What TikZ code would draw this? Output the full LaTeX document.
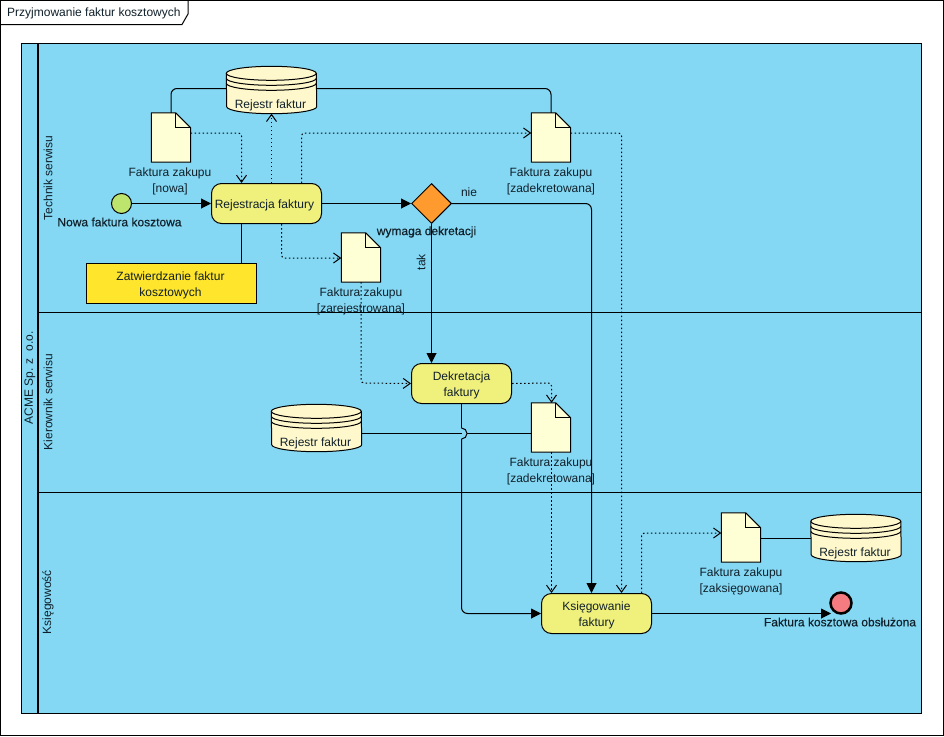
\documentclass[tikz,border=0pt]{standalone}
\usepackage{fontspec}
\setmainfont{Liberation Sans}
\newfontfamily\heavyface[FakeBold=0.25]{Liberation Sans}
\usetikzlibrary{arrows.meta,calc,shapes.geometric}
\definecolor{poolblue}{HTML}{84D8F4}
\definecolor{taskyellow}{HTML}{F0F07C}
\definecolor{sheet}{HTML}{FFFFD6}
\definecolor{drum}{HTML}{FFF8CC}
\definecolor{rulegold}{HTML}{FFE52B}
\definecolor{gateorange}{HTML}{FF9A2E}
\definecolor{startgreen}{HTML}{BDE56E}
\definecolor{endred}{HTML}{F47C80}
\definecolor{ink}{HTML}{10202A}
\tikzset{
  x=1pt,y=-1pt,
  every node/.style={font=\fontsize{12}{16}\selectfont,text=ink,inner sep=0pt,align=center},
  outline/.style={draw=black,line width=1pt},
  taskbox/.style={outline,fill=taskyellow,rounded corners=10pt,minimum height=40pt},
  rulebox/.style={outline,fill=rulegold,minimum width=170pt,minimum height=40pt},
  sheetbox/.style={minimum width=39pt,minimum height=49pt},
  drumbox/.style={minimum width=90pt,minimum height=47pt},
  flow/.style={draw=black,line width=1pt,rounded corners=6pt,-{Triangle[length=10pt,width=10pt]}},
  assoc/.style={draw=black,line width=1pt,rounded corners=6pt},
  dataflow/.style={draw=black,line width=1pt,rounded corners=3pt,dash pattern=on 1.5pt off 2.5pt,
    -{Straight Barb[length=7pt,width=10pt]}},
  boldlabel/.style={font=\heavyface\fontsize{12}{16}\selectfont},
  lanetitle/.style={rotate=90},
  boxtext/.style={yshift=-2pt}
}
% Data object: a sheet with a folded corner
\newcommand{\datasheet}[2]{%
  \node[sheetbox] (#1) at (#2) {};
  \draw[outline,fill=sheet,line join=miter] (#1.north west) -- ([xshift=-15pt]#1.north east)
    -- ([yshift=-15pt]#1.north east) -- (#1.south east) -- (#1.south west) -- cycle;
  \draw[outline] ([xshift=-15pt]#1.north east) -- ([xshift=-15pt,yshift=-15pt]#1.north east)
    -- ([yshift=-15pt]#1.north east);
}
% Data store: a drum with three rings and its caption
\newcommand{\datastore}[2]{%
  \node[drumbox] (#1) at (#2) {};
  \draw[outline,fill=drum] ([yshift=-7pt]#1.north west)
    arc[start angle=180,end angle=0,x radius=45pt,y radius=7pt]
    -- ([yshift=7pt]#1.south east)
    arc[start angle=0,end angle=-180,x radius=45pt,y radius=7pt] -- cycle;
  \draw[outline] ([yshift=-7pt]#1.north west)
    arc[start angle=180,end angle=360,x radius=45pt,y radius=7pt];
  \draw[outline] ([yshift=-12pt]#1.north west)
    arc[start angle=180,end angle=360,x radius=45pt,y radius=7pt];
  \draw[outline] ([yshift=-17pt]#1.north west)
    arc[start angle=180,end angle=360,x radius=45pt,y radius=7pt];
  \node (#1text) at ([xshift=-1pt,yshift=8pt]#1.south) {Rejestr faktur};
}
\begin{document}
\begin{tikzpicture}
\useasboundingbox (0,0) rectangle (944,736);
\fill[white] (0,0) rectangle (944,736);

% Diagram frame and its name tab
\draw[black,line width=1pt] (0.5,0.5) rectangle (943.5,735.5);
\draw[black,line width=1pt] (0.5,24.5) -- (182,24.5) -- (188,14) -- (188,0.5);
\node[anchor=west] (title) at (7,13) {Przyjmowanie faktur kosztowych};

% Pool with its three lanes
\node[draw=black,line width=1pt,fill=poolblue,minimum width=900pt,minimum height=670pt] (pool) at (471.5,378.5) {};
\draw[black,line width=2.5pt] (38,43.5) -- (38,713.5);
\draw[black,line width=1pt] (38,312.5) -- (pool.east |- 0,312.5);
\draw[black,line width=1pt] (38,492.5) -- (pool.east |- 0,492.5);
\node[lanetitle] (poolname) at (30,378) {ACME Sp. z\ \ o.o.};
\node[lanetitle] (lane1) at (48,178) {Technik serwisu};
\node[lanetitle] (lane2) at (48,402) {Kierownik serwisu};
\node[lanetitle] (lane3) at (48,602) {Księgowość};

% Data stores and data objects
\datastore{storeA}{271.5,90}
\datastore{storeB}{316.5,428}
\datastore{storeC}{856,538}
\datasheet{docNew}{171,137.5}
\datasheet{docDecA}{551,137.5}
\datasheet{docReg}{361,257.5}
\datasheet{docDecB}{551,427.5}
\datasheet{docPost}{741,537.5}

% Activities, gateway and events
\node[taskbox,minimum width=110pt] (taskReg) at (266.5,203.5) {};
\node[boxtext,xshift=-2pt] (taskRegText) at (taskReg.center) {Rejestracja faktury};
\node[taskbox,minimum width=100pt] (taskDec) at (461.5,383.5) {};
\node[boxtext] (taskDecText) at (taskDec.center) {Dekretacja\\faktury};
\node[taskbox,minimum width=110pt] (taskPost) at (596.5,613.5) {};
\node[boxtext] (taskPostText) at (taskPost.center) {Księgowanie\\faktury};
\node[rulebox] (rule) at (171.5,283.5) {};
\node[boxtext,xshift=-1pt] (ruleText) at (rule.center) {Zatwierdzanie faktur\\kosztowych};
\node[outline,fill=gateorange,diamond,aspect=1,minimum size=40pt] (gate) at (431.5,203.5) {};
\node[outline,fill=startgreen,circle,minimum size=20pt] (start) at (121.5,203.5) {};
\node[draw=black,line width=2.5pt,fill=endred,circle,minimum size=21pt] (end) at (841,603) {};

% Associations between objects and stores
\draw[assoc] (docNew.north) -- (docNew.north |- 0,88.5) -- (storeA.west |- 0,88.5);
\draw[assoc] (storeA.east |- 0,88.5) -- (docDecA.north |- 0,88.5) -- (docDecA.north);
\draw[assoc] (docPost.east |- 0,538) -- (storeC.west |- 0,538);
\draw[assoc] (rule.north -| 241.5,0) -- (taskReg.south -| 241.5,0);
\draw[assoc] (storeB.east |- 0,433) -- (461.5,433) (466.5,433) -- (docDecB.west |- 0,433);

% Sequence flows
\draw[flow] (start) -- (taskReg);
\draw[flow] (taskReg) -- (gate.west);
\draw[flow] (gate.south) -- (gate.south |- taskDec.north);
\draw[flow] (gate.east) -- (591.5,203.5) -- (591.5,0 |- taskPost.north);
\draw[assoc] (taskDec.south) -- (461.5,428);
\draw[black,line width=1pt] (461.5,428) arc[start angle=90,end angle=-90,radius=5.5pt];
\draw[flow] (461.5,439) -- (461.5,613.5) -- (taskPost.west);
\draw[flow] (taskPost.east) -- (831,613.5);

% Data associations
\draw[dataflow] (docNew.east |- 0,133) -- (241.5,133) -- (241.5,0 |- taskReg.north);
\draw[dataflow] (271.5,0 |- taskReg.north) -- (271.5,0 |- storeA.south);
\draw[dataflow] (301.5,0 |- taskReg.north) -- (301.5,133) -- (docDecA.west |- 0,133);
\draw[dataflow] (281.5,0 |- taskReg.south) -- (281.5,258) -- (docReg.west |- 0,258);
\draw[dataflow] (docReg.south) -- (361,383) -- (taskDec.west);
\draw[dataflow] (taskDec.east) -- (551.5,383) -- (551.5,0 |- docDecB.north);
\draw[dataflow] (551.5,0 |- docDecB.south) -- (551.5,0 |- taskPost.north);
\draw[dataflow] (docDecA.east |- 0,133) -- (621.5,133) -- (621.5,0 |- taskPost.north);
\draw[dataflow] (641.5,0 |- taskPost.north) -- (641.5,533) -- (docPost.west |- 0,533);

% Captions
\node (capNew) at (170,181) {Faktura zakupu\\{[nowa]}};
\node (capDecA) at (551,181) {Faktura zakupu\\{[zadekretowana]}};
\node (capReg) at (361,301) {Faktura zakupu\\{[zarejestrowana]}};
\node (capDecB) at (551,471) {Faktura zakupu\\{[zadekretowana]}};
\node (capPost) at (741,581) {Faktura zakupu\\{[zaksięgowana]}};
\node[boldlabel] (capStart) at (119.5,222) {Nowa faktura kosztowa};
\node[boldlabel] (capGate) at (426.5,232) {wymaga dekretacji};
\node[boldlabel] (capEnd) at (840,622) {Faktura kosztowa obsłużona};
\node (capYes) at (469,192.5) {nie};
\node[rotate=90] (capNo) at (421,262) {tak};
\end{tikzpicture}
\end{document}
